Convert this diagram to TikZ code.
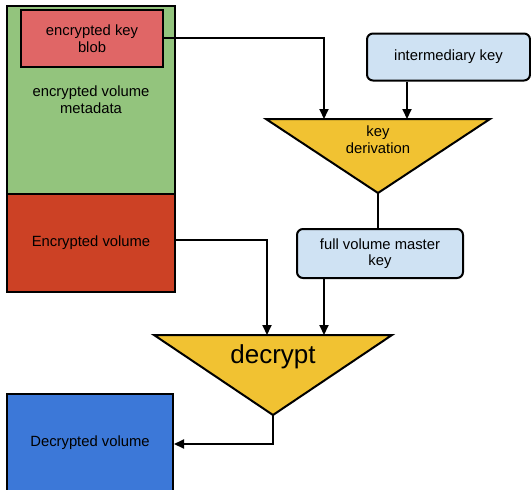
\documentclass[tikz,border=0pt]{standalone}
\usepackage{fontspec}
\setmainfont{Liberation Sans}
\usetikzlibrary{arrows.meta}
\definecolor{gmeta}{HTML}{93C47D}
\definecolor{rblob}{HTML}{E06666}
\definecolor{rvol}{HTML}{CC4125}
\definecolor{lblue}{HTML}{CFE2F3}
\definecolor{yel}{HTML}{F1C232}
\definecolor{dblue}{HTML}{3C78D8}
\tikzset{
  box/.style={draw=black, line width=2pt, inner sep=0pt, align=center,
    font=\fontsize{14.8}{16.5}\selectfont},
  keybox/.style={box, fill=lblue, rounded corners=6pt},
  conn/.style={line width=2pt},
  arr/.style={conn, -{Triangle[length=10pt,width=9pt]}},
  tri/.style={draw=black, line width=2pt, fill=yel, line join=miter},
  lbl/.style={align=center, inner sep=0pt, font=\fontsize{14.8}{16.5}\selectfont}
}
\begin{document}
\begin{tikzpicture}[x=1pt,y=-1pt]
\useasboundingbox (0,0) rectangle (531,490);
% boxes
\node[box, fill=gmeta, minimum width=168pt, minimum height=188pt] (meta) at (91,99.5) {encrypted volume\\metadata};
\node[box, fill=rblob, minimum width=142pt, minimum height=57pt] (blob) at (92,38.5) {encrypted key\\blob};
\node[box, fill=rvol, minimum width=168pt, minimum height=98pt] (vol) at (91,242.5) {Encrypted volume};
\node[box, fill=dblue, minimum width=166pt, minimum height=98pt] (dec) at (90,442.5) {Decrypted volume};
\node[keybox, minimum width=163pt, minimum height=47pt] (ikey) at (448.5,57) {intermediary key};
\node[keybox, minimum width=166pt, minimum height=49pt] (fkey) at (380,253.5) {full volume master\\key};
% key derivation triangle
\draw[tri] (266,119) -- (490,119) -- (378,193) -- cycle;
\coordinate (kdL) at (324,119);
\coordinate (kdR) at (407,119);
\coordinate (kdA) at (378,193);
\node[lbl] (kd) at (378,139.5) {key\\derivation};
% decrypt triangle
\draw[tri] (154,335) -- (392,335) -- (273,415) -- cycle;
\coordinate (dL) at (267,335);
\coordinate (dR) at (324,335);
\coordinate (dA) at (273,415);
\node[lbl, font=\fontsize{26}{28}\selectfont] (dt) at (273,356.5) {decrypt};
% connectors
\draw[arr] (blob.east |- 0,38) -| (kdL);
\draw[arr] (ikey.south -| kdR) -- (kdR);
\draw[conn] (kdA) -- (fkey.north -| kdA);
\draw[arr] (vol.east |- 0,240) -| (dL);
\draw[arr] (fkey.south -| dR) -- (dR);
\draw[arr] (dA) |- (dec.east |- 0,444);
\end{tikzpicture}
\end{document}
